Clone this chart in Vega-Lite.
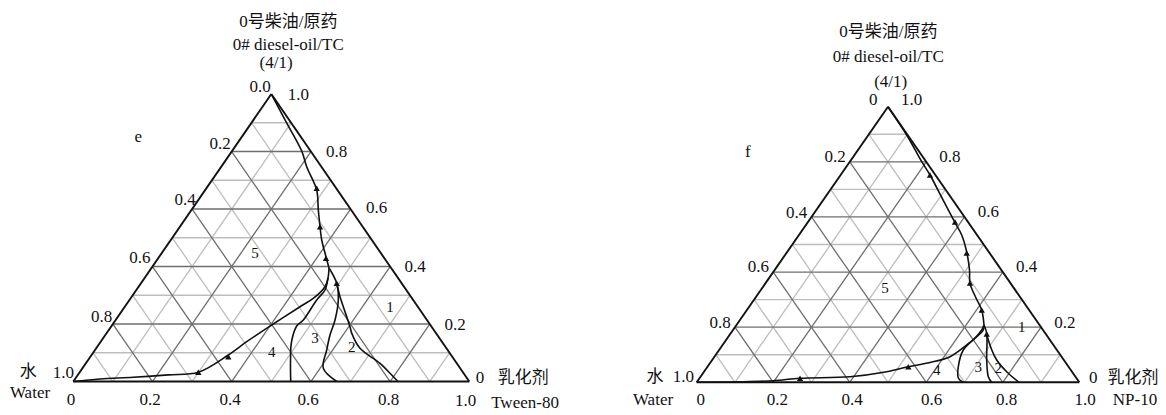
{
  "$schema": "https://vega.github.io/schema/vega-lite/v6.json",
  "background": "white",
  "padding": 0,
  "autosize": {"type": "pad"},
  "spacing": 0,
  "bounds": "flush",
  "config": {"view": {"stroke": null}, "text": {"font": "Liberation Serif, Noto Sans CJK SC", "color": "#111"}},
  "datasets": {
    "grid": [
      {"x": 0.05, "y": 0.1, "x2": 0.95, "y2": 0.1, "w": "minor"},
      {"x": 0.15, "y": 0.3, "x2": 0.85, "y2": 0.3, "w": "minor"},
      {"x": 0.25, "y": 0.5, "x2": 0.75, "y2": 0.5, "w": "minor"},
      {"x": 0.35, "y": 0.7, "x2": 0.65, "y2": 0.7, "w": "minor"},
      {"x": 0.45, "y": 0.9, "x2": 0.55, "y2": 0.9, "w": "minor"},
      {"x": 0.1, "y": 0, "x2": 0.05, "y2": 0.1, "w": "minor"},
      {"x": 0.3, "y": 0, "x2": 0.15, "y2": 0.3, "w": "minor"},
      {"x": 0.5, "y": 0, "x2": 0.25, "y2": 0.5, "w": "minor"},
      {"x": 0.7, "y": 0, "x2": 0.35, "y2": 0.7, "w": "minor"},
      {"x": 0.9, "y": 0, "x2": 0.45, "y2": 0.9, "w": "minor"},
      {"x": 0.1, "y": 0, "x2": 0.55, "y2": 0.9, "w": "minor"},
      {"x": 0.3, "y": 0, "x2": 0.65, "y2": 0.7, "w": "minor"},
      {"x": 0.5, "y": 0, "x2": 0.75, "y2": 0.5, "w": "minor"},
      {"x": 0.7, "y": 0, "x2": 0.85, "y2": 0.3, "w": "minor"},
      {"x": 0.9, "y": 0, "x2": 0.95, "y2": 0.1, "w": "minor"},
      {"x": 0.1, "y": 0.2, "x2": 0.9, "y2": 0.2, "w": "major"},
      {"x": 0.2, "y": 0.4, "x2": 0.8, "y2": 0.4, "w": "major"},
      {"x": 0.3, "y": 0.6, "x2": 0.7, "y2": 0.6, "w": "major"},
      {"x": 0.4, "y": 0.8, "x2": 0.6, "y2": 0.8, "w": "major"},
      {"x": 0.2, "y": 0, "x2": 0.1, "y2": 0.2, "w": "major"},
      {"x": 0.4, "y": 0, "x2": 0.2, "y2": 0.4, "w": "major"},
      {"x": 0.6, "y": 0, "x2": 0.3, "y2": 0.6, "w": "major"},
      {"x": 0.8, "y": 0, "x2": 0.4, "y2": 0.8, "w": "major"},
      {"x": 0.2, "y": 0, "x2": 0.6, "y2": 0.8, "w": "major"},
      {"x": 0.4, "y": 0, "x2": 0.7, "y2": 0.6, "w": "major"},
      {"x": 0.6, "y": 0, "x2": 0.8, "y2": 0.4, "w": "major"},
      {"x": 0.8, "y": 0, "x2": 0.9, "y2": 0.2, "w": "major"}
    ],
    "edges": [
      {"x": 0, "y": 0, "x2": 1, "y2": 0},
      {"x": 0, "y": 0, "x2": 0.5, "y2": 1},
      {"x": 1, "y": 0, "x2": 0.5, "y2": 1}
    ],
    "curvesL": [
      {"id": "M", "s": 1, "x": 0.5, "y": 1.0},
      {"id": "M", "s": 2, "x": 0.5387, "y": 0.9},
      {"id": "M", "s": 3, "x": 0.5768, "y": 0.8017},
      {"id": "M", "s": 4, "x": 0.5894, "y": 0.7471},
      {"id": "M", "s": 5, "x": 0.6146, "y": 0.6661},
      {"id": "M", "s": 6, "x": 0.6187, "y": 0.5965},
      {"id": "M", "s": 7, "x": 0.623, "y": 0.5384},
      {"id": "M", "s": 8, "x": 0.6273, "y": 0.4922},
      {"id": "M", "s": 9, "x": 0.6381, "y": 0.4341},
      {"id": "M", "s": 10, "x": 0.6457, "y": 0.3948},
      {"id": "A", "s": 1, "x": 0.6457, "y": 0.3948},
      {"id": "A", "s": 2, "x": 0.6432, "y": 0.36},
      {"id": "A", "s": 3, "x": 0.6356, "y": 0.3297},
      {"id": "A", "s": 4, "x": 0.605, "y": 0.288},
      {"id": "A", "s": 5, "x": 0.5725, "y": 0.2602},
      {"id": "A", "s": 6, "x": 0.501, "y": 0.1965},
      {"id": "A", "s": 7, "x": 0.4379, "y": 0.1384},
      {"id": "A", "s": 8, "x": 0.3914, "y": 0.0922},
      {"id": "A", "s": 9, "x": 0.3157, "y": 0.032},
      {"id": "A", "s": 10, "x": 0.24, "y": 0.023},
      {"id": "A", "s": 11, "x": 0.1515, "y": 0.0146},
      {"id": "A", "s": 12, "x": 0.0674, "y": 0.0087},
      {"id": "A", "s": 13, "x": 0, "y": 0},
      {"id": "B", "s": 1, "x": 0.6432, "y": 0.36},
      {"id": "B", "s": 2, "x": 0.6356, "y": 0.3183},
      {"id": "B", "s": 3, "x": 0.6146, "y": 0.2835},
      {"id": "B", "s": 4, "x": 0.5808, "y": 0.2139},
      {"id": "B", "s": 5, "x": 0.5641, "y": 0.193},
      {"id": "B", "s": 6, "x": 0.551, "y": 0.1374},
      {"id": "B", "s": 7, "x": 0.5485, "y": 0.0748},
      {"id": "B", "s": 8, "x": 0.549, "y": 0},
      {"id": "C", "s": 1, "x": 0.6457, "y": 0.3948},
      {"id": "C", "s": 2, "x": 0.6652, "y": 0.3416},
      {"id": "C", "s": 3, "x": 0.6692, "y": 0.2835},
      {"id": "C", "s": 4, "x": 0.6609, "y": 0.2139},
      {"id": "C", "s": 5, "x": 0.6482, "y": 0.1617},
      {"id": "C", "s": 6, "x": 0.6399, "y": 0.1096},
      {"id": "C", "s": 7, "x": 0.6313, "y": 0.0459},
      {"id": "C", "s": 8, "x": 0.6652, "y": 0},
      {"id": "D", "s": 1, "x": 0.6652, "y": 0.3416},
      {"id": "D", "s": 2, "x": 0.6735, "y": 0.295},
      {"id": "D", "s": 3, "x": 0.6818, "y": 0.2602},
      {"id": "D", "s": 4, "x": 0.6987, "y": 0.1906},
      {"id": "D", "s": 5, "x": 0.703, "y": 0.1683},
      {"id": "D", "s": 6, "x": 0.724, "y": 0.1155},
      {"id": "D", "s": 7, "x": 0.7745, "y": 0.0633},
      {"id": "D", "s": 8, "x": 0.804, "y": 0.0226},
      {"id": "D", "s": 9, "x": 0.8199, "y": 0}
    ],
    "curvesR": [
      {"id": "M", "s": 1, "x": 0.5, "y": 1.0},
      {"id": "M", "s": 2, "x": 0.5489, "y": 0.8973},
      {"id": "M", "s": 3, "x": 0.5881, "y": 0.8004},
      {"id": "M", "s": 4, "x": 0.6098, "y": 0.7522},
      {"id": "M", "s": 5, "x": 0.6438, "y": 0.6615},
      {"id": "M", "s": 6, "x": 0.6751, "y": 0.5798},
      {"id": "M", "s": 7, "x": 0.6926, "y": 0.5345},
      {"id": "M", "s": 8, "x": 0.7057, "y": 0.4728},
      {"id": "M", "s": 9, "x": 0.713, "y": 0.4075},
      {"id": "M", "s": 10, "x": 0.7143, "y": 0.3592},
      {"id": "M", "s": 11, "x": 0.73, "y": 0.3059},
      {"id": "M", "s": 12, "x": 0.7449, "y": 0.2623},
      {"id": "M", "s": 13, "x": 0.7509, "y": 0.2079},
      {"id": "A", "s": 1, "x": 0.7509, "y": 0.2079},
      {"id": "A", "s": 2, "x": 0.7449, "y": 0.1898},
      {"id": "A", "s": 3, "x": 0.7274, "y": 0.1607},
      {"id": "A", "s": 4, "x": 0.7057, "y": 0.1353},
      {"id": "A", "s": 5, "x": 0.6621, "y": 0.0929},
      {"id": "A", "s": 6, "x": 0.6098, "y": 0.0718},
      {"id": "A", "s": 7, "x": 0.5531, "y": 0.0566},
      {"id": "A", "s": 8, "x": 0.4966, "y": 0.0385},
      {"id": "A", "s": 9, "x": 0.4007, "y": 0.0203},
      {"id": "A", "s": 10, "x": 0.27, "y": 0.0145},
      {"id": "A", "s": 11, "x": 0.2002, "y": 0.0058},
      {"id": "A", "s": 12, "x": 0.1132, "y": 0.0018},
      {"id": "A", "s": 13, "x": 0, "y": 0},
      {"id": "B", "s": 1, "x": 0.7509, "y": 0.2079},
      {"id": "B", "s": 2, "x": 0.7491, "y": 0.1898},
      {"id": "B", "s": 3, "x": 0.6968, "y": 0.1172},
      {"id": "B", "s": 4, "x": 0.6838, "y": 0.0566},
      {"id": "B", "s": 5, "x": 0.6838, "y": 0.0156},
      {"id": "B", "s": 6, "x": 0.696, "y": 0},
      {"id": "C", "s": 1, "x": 0.7509, "y": 0.2079},
      {"id": "C", "s": 2, "x": 0.758, "y": 0.1778},
      {"id": "C", "s": 3, "x": 0.758, "y": 0.0809},
      {"id": "C", "s": 4, "x": 0.7622, "y": 0.0203},
      {"id": "C", "s": 5, "x": 0.771, "y": 0},
      {"id": "D", "s": 1, "x": 0.758, "y": 0.1778},
      {"id": "D", "s": 2, "x": 0.7596, "y": 0.1655},
      {"id": "D", "s": 3, "x": 0.7841, "y": 0.0809},
      {"id": "D", "s": 4, "x": 0.8144, "y": 0.0327},
      {"id": "D", "s": 5, "x": 0.8424, "y": 0}
    ],
    "arrowsL": [
      {"x": 0.6146, "y": 0.672}, {"x": 0.623, "y": 0.5384}, {"x": 0.6381, "y": 0.4285},
      {"x": 0.6652, "y": 0.3416}, {"x": 0.3914, "y": 0.0863}, {"x": 0.3157, "y": 0.032}
    ],
    "arrowsR": [
      {"x": 0.6098, "y": 0.7522}, {"x": 0.6751, "y": 0.5816}, {"x": 0.7057, "y": 0.4692},
      {"x": 0.7143, "y": 0.3603}, {"x": 0.7449, "y": 0.2623}, {"x": 0.758, "y": 0.1752},
      {"x": 0.5531, "y": 0.0566}, {"x": 0.27, "y": 0.0145}
    ],
    "textL": [
      {"t": "0号柴油/原药", "role": "title", "x": 0.5429, "y": 1.2515},
      {"t": "0# diesel-oil/TC", "role": "title", "x": 0.5429, "y": 1.1704},
      {"t": "(4/1)", "role": "title", "x": 0.5119, "y": 1.1089},
      {"t": "0.0", "role": "tick", "x": 0.4715, "y": 1.0254},
      {"t": "1.0", "role": "tick", "x": 0.5682, "y": 0.9965},
      {"t": "0.2", "role": "tick", "x": 0.3705, "y": 0.8261},
      {"t": "0.4", "role": "tick", "x": 0.2821, "y": 0.6313},
      {"t": "0.6", "role": "tick", "x": 0.1684, "y": 0.4285},
      {"t": "0.8", "role": "tick", "x": 0.0717, "y": 0.2254},
      {"t": "1.0", "role": "tick", "x": -0.0253, "y": 0.0285},
      {"t": "0", "role": "tick", "x": -0.006, "y": -0.064},
      {"t": "0.2", "role": "tick", "x": 0.194, "y": -0.064},
      {"t": "0.4", "role": "tick", "x": 0.396, "y": -0.064},
      {"t": "0.6", "role": "tick", "x": 0.593, "y": -0.064},
      {"t": "0.8", "role": "tick", "x": 0.796, "y": -0.064},
      {"t": "1.0", "role": "tick", "x": 0.991, "y": -0.068},
      {"t": "0.8", "role": "tick", "x": 0.6652, "y": 0.7993},
      {"t": "0.6", "role": "tick", "x": 0.7662, "y": 0.6024},
      {"t": "0.4", "role": "tick", "x": 0.8629, "y": 0.3993},
      {"t": "0.2", "role": "tick", "x": 0.9639, "y": 0.1965},
      {"t": "0", "role": "tick", "x": 1.027, "y": 0.0111},
      {"t": "水", "role": "name", "x": -0.1136, "y": 0.0341},
      {"t": "Water", "role": "name", "x": -0.1093, "y": -0.041},
      {"t": "乳化剂", "role": "name", "x": 1.1364, "y": 0.0111},
      {"t": "Tween-80", "role": "name", "x": 1.1407, "y": -0.0737},
      {"t": "e", "role": "name", "x": 0.1641, "y": 0.8515},
      {"t": "5", "role": "region", "x": 0.4588, "y": 0.4459},
      {"t": "1", "role": "region", "x": 0.7997, "y": 0.2602},
      {"t": "2", "role": "region", "x": 0.703, "y": 0.121},
      {"t": "3", "role": "region", "x": 0.6104, "y": 0.1503},
      {"t": "4", "role": "region", "x": 0.501, "y": 0.1037}
    ],
    "textR": [
      {"t": "0号柴油/原药", "role": "title", "x": 0.5008, "y": 1.2721},
      {"t": "0# diesel-oil/TC", "role": "title", "x": 0.5008, "y": 1.1814},
      {"t": "(4/1)", "role": "title", "x": 0.5071, "y": 1.0907},
      {"t": "0", "role": "tick", "x": 0.4616, "y": 1.0243},
      {"t": "1.0", "role": "tick", "x": 0.5619, "y": 1.0243},
      {"t": "0.2", "role": "tick", "x": 0.3615, "y": 0.8186},
      {"t": "0.4", "role": "tick", "x": 0.2614, "y": 0.6132},
      {"t": "0.6", "role": "tick", "x": 0.161, "y": 0.4194},
      {"t": "0.8", "role": "tick", "x": 0.0609, "y": 0.2163},
      {"t": "1.0", "role": "tick", "x": -0.035, "y": 0.0203},
      {"t": "0", "role": "tick", "x": 0.0105, "y": -0.0642},
      {"t": "0.2", "role": "tick", "x": 0.2107, "y": -0.0642},
      {"t": "0.4", "role": "tick", "x": 0.4059, "y": -0.0642},
      {"t": "0.6", "role": "tick", "x": 0.6142, "y": -0.0642},
      {"t": "0.8", "role": "tick", "x": 0.8102, "y": -0.0642},
      {"t": "1.0", "role": "tick", "x": 1.0149, "y": -0.0642},
      {"t": "0.8", "role": "tick", "x": 0.662, "y": 0.8186},
      {"t": "0.6", "role": "tick", "x": 0.7622, "y": 0.619},
      {"t": "0.4", "role": "tick", "x": 0.8625, "y": 0.4194},
      {"t": "0.2", "role": "tick", "x": 0.9626, "y": 0.2141},
      {"t": "0", "role": "tick", "x": 1.0366, "y": 0.0145},
      {"t": "水", "role": "name", "x": -0.109, "y": 0.0203},
      {"t": "Water", "role": "name", "x": -0.1142, "y": -0.0642},
      {"t": "乳化剂", "role": "name", "x": 1.1404, "y": 0.0145},
      {"t": "NP-10", "role": "name", "x": 1.1456, "y": -0.0642},
      {"t": "f", "role": "name", "x": 0.1333, "y": 0.8367},
      {"t": "5", "role": "region", "x": 0.4922, "y": 0.3411},
      {"t": "1", "role": "region", "x": 0.8495, "y": 0.2017},
      {"t": "3", "role": "region", "x": 0.736, "y": 0.0566},
      {"t": "2", "role": "region", "x": 0.7883, "y": 0.0508},
      {"t": "4", "role": "region", "x": 0.6273, "y": 0.0446}
    ]
  },
  "hconcat": [
    {
      "width": 583,
      "height": 415,
      "layer": [
        {
          "data": {"name": "grid"},
          "mark": {"type": "rule", "strokeWidth": 1.3},
          "encoding": {
            "x": {"field": "x", "type": "quantitative", "scale": {"domain": [-0.1851, 1.2871], "nice": false, "zero": false}, "axis": null},
            "y": {"field": "y", "type": "quantitative", "scale": {"domain": [-0.1165, 1.327], "nice": false, "zero": false}, "axis": null},
            "x2": {"field": "x2"},
            "y2": {"field": "y2"},
            "color": {"field": "w", "type": "nominal", "scale": {"domain": ["minor", "major"], "range": ["#bdbdbd", "#6e6e6e"]}, "legend": null}
          }
        },
        {
          "data": {"name": "edges"},
          "mark": {"type": "rule", "strokeWidth": 1.9, "color": "#111"},
          "encoding": {
            "x": {"field": "x", "type": "quantitative", "axis": null},
            "y": {"field": "y", "type": "quantitative", "axis": null},
            "x2": {"field": "x2"},
            "y2": {"field": "y2"}
          }
        },
        {
          "data": {"name": "curvesL"},
          "mark": {"type": "line", "color": "#111", "strokeWidth": 1.6, "interpolate": "catmull-rom"},
          "encoding": {
            "x": {"field": "x", "type": "quantitative", "axis": null},
            "y": {"field": "y", "type": "quantitative", "axis": null},
            "detail": {"field": "id"},
            "order": {"field": "s", "type": "quantitative"}
          }
        },
        {
          "data": {"name": "arrowsL"},
          "mark": {"type": "point", "shape": "triangle-up", "filled": true, "size": 40, "color": "#111", "opacity": 1},
          "encoding": {
            "x": {"field": "x", "type": "quantitative", "axis": null},
            "y": {"field": "y", "type": "quantitative", "axis": null}
          }
        },
        {
          "data": {"name": "textL"},
          "transform": [{"filter": "datum.role === 'tick' || datum.role === 'name' || datum.role === 'title'"}],
          "mark": {"type": "text", "fontSize": 17, "align": "center", "baseline": "middle"},
          "encoding": {
            "x": {"field": "x", "type": "quantitative", "axis": null},
            "y": {"field": "y", "type": "quantitative", "axis": null},
            "text": {"field": "t"}
          }
        },
        {
          "data": {"name": "textL"},
          "transform": [{"filter": "datum.role === 'region'"}],
          "mark": {"type": "text", "fontSize": 15, "align": "center", "baseline": "middle"},
          "encoding": {
            "x": {"field": "x", "type": "quantitative", "axis": null},
            "y": {"field": "y", "type": "quantitative", "axis": null},
            "text": {"field": "t"}
          }
        }
      ]
    },
    {
      "width": 583,
      "height": 415,
      "layer": [
        {
          "data": {"name": "grid"},
          "mark": {"type": "rule", "strokeWidth": 1.3},
          "encoding": {
            "x": {"field": "x", "type": "quantitative", "scale": {"domain": [-0.2972, 1.2266], "nice": false, "zero": false}, "axis": null},
            "y": {"field": "y", "type": "quantitative", "scale": {"domain": [-0.1187, 1.3872], "nice": false, "zero": false}, "axis": null},
            "x2": {"field": "x2"},
            "y2": {"field": "y2"},
            "color": {"field": "w", "type": "nominal", "scale": {"domain": ["minor", "major"], "range": ["#bdbdbd", "#6e6e6e"]}, "legend": null}
          }
        },
        {
          "data": {"name": "edges"},
          "mark": {"type": "rule", "strokeWidth": 1.9, "color": "#111"},
          "encoding": {
            "x": {"field": "x", "type": "quantitative", "axis": null},
            "y": {"field": "y", "type": "quantitative", "axis": null},
            "x2": {"field": "x2"},
            "y2": {"field": "y2"}
          }
        },
        {
          "data": {"name": "curvesR"},
          "mark": {"type": "line", "color": "#111", "strokeWidth": 1.6, "interpolate": "catmull-rom"},
          "encoding": {
            "x": {"field": "x", "type": "quantitative", "axis": null},
            "y": {"field": "y", "type": "quantitative", "axis": null},
            "detail": {"field": "id"},
            "order": {"field": "s", "type": "quantitative"}
          }
        },
        {
          "data": {"name": "arrowsR"},
          "mark": {"type": "point", "shape": "triangle-up", "filled": true, "size": 40, "color": "#111", "opacity": 1},
          "encoding": {
            "x": {"field": "x", "type": "quantitative", "axis": null},
            "y": {"field": "y", "type": "quantitative", "axis": null}
          }
        },
        {
          "data": {"name": "textR"},
          "transform": [{"filter": "datum.role === 'tick' || datum.role === 'name' || datum.role === 'title'"}],
          "mark": {"type": "text", "fontSize": 17, "align": "center", "baseline": "middle"},
          "encoding": {
            "x": {"field": "x", "type": "quantitative", "axis": null},
            "y": {"field": "y", "type": "quantitative", "axis": null},
            "text": {"field": "t"}
          }
        },
        {
          "data": {"name": "textR"},
          "transform": [{"filter": "datum.role === 'region'"}],
          "mark": {"type": "text", "fontSize": 15, "align": "center", "baseline": "middle"},
          "encoding": {
            "x": {"field": "x", "type": "quantitative", "axis": null},
            "y": {"field": "y", "type": "quantitative", "axis": null},
            "text": {"field": "t"}
          }
        }
      ]
    }
  ],
  "resolve": {"scale": {"x": "independent", "y": "independent", "color": "shared"}}
}
